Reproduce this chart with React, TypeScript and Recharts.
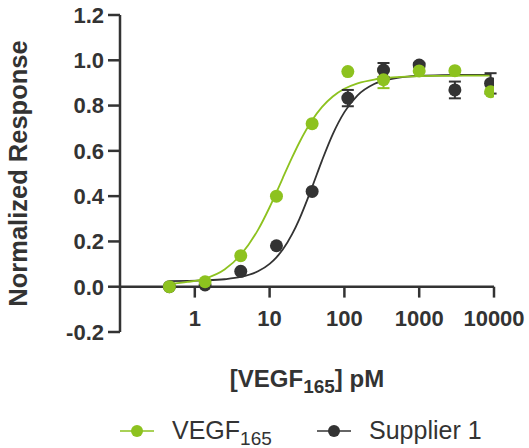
import React from 'react';
import {
  ComposedChart,
  Line,
  Scatter,
  ErrorBar,
  XAxis,
  YAxis,
  ReferenceLine,
} from 'recharts';

// Colours
const GREEN = '#8dc21f';
const DARK = '#333333';
const FONT = '"Liberation Sans", Arial, sans-serif';

// Concentrations (pM), 3-fold dilution series
const concentrations = [0.457, 1.372, 4.115, 12.35, 37.04, 111.1, 333.3, 1000, 3000, 9000];

// Measured points
const vegfValues = [0.0, 0.022, 0.137, 0.4, 0.72, 0.95, 0.914, 0.953, 0.954, 0.861];
const vegfErrors = [0, 0, 0, 0, 0, 0, 0.037, 0, 0, 0];
const supplierValues = [0.0, 0.008, 0.068, 0.181, 0.421, 0.833, 0.957, 0.979, 0.869, 0.898];
const supplierErrors = [0, 0, 0, 0, 0, 0.036, 0.031, 0.01, 0.037, 0.045];

// Fitted curves
const curveX = [0.457, 0.8, 1.37, 2.5, 4.12, 7, 10, 12.35, 15, 20, 25, 37, 50, 70, 100, 150, 250, 400, 700, 1000, 2000, 4000, 9000];
const vegfCurve = [0.012, 0.021, 0.036, 0.076, 0.141, 0.251, 0.351, 0.417, 0.48, 0.571, 0.637, 0.735, 0.793, 0.84, 0.874, 0.898, 0.915, 0.923, 0.928, 0.93, 0.931, 0.932, 0.932];
const supplierCurve = [0.025, 0.026, 0.028, 0.033, 0.043, 0.068, 0.101, 0.13, 0.164, 0.232, 0.299, 0.44, 0.556, 0.674, 0.771, 0.845, 0.895, 0.916, 0.928, 0.931, 0.934, 0.935, 0.935];

// Axis ticks
const xTicks = [1, 10, 100, 1000, 10000];
const yTicks = [-0.2, 0, 0.2, 0.4, 0.6, 0.8, 1.0, 1.2];

const vegfPoints = concentrations.map((x, i) => ({ x, y: vegfValues[i], err: vegfErrors[i] }));
const supplierPoints = concentrations.map((x, i) => ({ x, y: supplierValues[i], err: supplierErrors[i] }));
const vegfLine = curveX.map((x, i) => ({ x, y: vegfCurve[i] }));
const supplierLine = curveX.map((x, i) => ({ x, y: supplierCurve[i] }));

const dot = (color: string) => (p: any) => <circle cx={p.cx} cy={p.cy} r={6.5} fill={color} />;

function XTick({ x, y, payload }: any) {
  return (
    <text x={x} y={y - 6} textAnchor="middle" fill={DARK} fontFamily={FONT} fontWeight="bold" fontSize={22}>
      {payload.value}
    </text>
  );
}

function XTitle({ viewBox }: any) {
  const cx = viewBox.x + viewBox.width / 2;
  const y = viewBox.y + viewBox.height + 25;
  return (
    <text x={cx} y={y} textAnchor="middle" fill={DARK} fontFamily={FONT} fontWeight="bold" fontSize={24}>
      [VEGF
      <tspan fontSize={19} dy={6}>165</tspan>
      <tspan dy={-6}>] pM</tspan>
    </text>
  );
}

function YTitle({ viewBox }: any) {
  const cy = viewBox.y + viewBox.height / 2;
  const x = 27;
  return (
    <text
      x={x}
      y={cy}
      transform={`rotate(-90, ${x}, ${cy})`}
      textAnchor="middle"
      fill={DARK}
      fontFamily={FONT}
      fontWeight="bold"
      fontSize={25.5}
    >
      Normalized Response
    </text>
  );
}

function LegendMarker({ color }: { color: string }) {
  return (
    <svg width={34} height={14} style={{ display: 'block' }}>
      <line x1={0} y1={7} x2={34} y2={7} stroke={color} strokeWidth={1.5} />
      <circle cx={17} cy={7} r={6} fill={color} />
    </svg>
  );
}

function ChartLegend() {
  const item: React.CSSProperties = { display: 'flex', alignItems: 'center', position: 'absolute', top: 0 };
  const label: React.CSSProperties = { fontFamily: FONT, fontSize: 25, color: DARK, whiteSpace: 'nowrap' };
  return (
    <div style={{ position: 'absolute', left: 0, top: 416, width: 529, height: 30 }}>
      <div style={{ ...item, left: 120 }}>
        <LegendMarker color={GREEN} />
        <span style={{ ...label, marginLeft: 18 }}>
          VEGF<sub style={{ fontSize: 19, verticalAlign: 'baseline', position: 'relative', top: 6 }}>165</sub>
        </span>
      </div>
      <div style={{ ...item, left: 317 }}>
        <LegendMarker color={DARK} />
        <span style={{ ...label, marginLeft: 18 }}>Supplier 1</span>
      </div>
    </div>
  );
}

export default function App() {
  return (
    <div style={{ position: 'absolute', left: 0, top: 0, width: 529, height: 448, background: '#fff' }}>
      <ComposedChart width={529} height={448} margin={{ top: 15, right: 35, bottom: 86, left: 0 }}>
        <XAxis
          type="number"
          dataKey="x"
          scale="log"
          domain={[0.1, 10000]}
          ticks={xTicks}
          allowDataOverflow
          axisLine={false}
          tickLine={false}
          tickSize={0}
          tickMargin={0}
          height={30}
          tick={<XTick />}
          label={<XTitle />}
        />
        <YAxis
          type="number"
          domain={[-0.2, 1.2]}
          ticks={yTicks}
          width={120}
          tickFormatter={(v: number) => v.toFixed(1)}
          axisLine={{ stroke: DARK, strokeWidth: 2.5 }}
          tickLine={{ stroke: DARK, strokeWidth: 2.5 }}
          tickSize={12}
          tickMargin={4}
          tick={{ fill: DARK, fontFamily: FONT, fontWeight: 'bold', fontSize: 22 }}
          label={<YTitle />}
        />

        {/* x axis drawn at y = 0 */}
        <ReferenceLine y={0} stroke={DARK} strokeWidth={2.5} />
        {xTicks.map((t) => (
          <ReferenceLine
            key={t}
            segment={[{ x: t, y: 0 }, { x: t, y: -0.048 }]}
            stroke={DARK}
            strokeWidth={2.5}
          />
        ))}

        <Line
          data={supplierLine}
          dataKey="y"
          type="monotone"
          stroke={DARK}
          strokeWidth={1.8}
          dot={false}
          activeDot={false}
          isAnimationActive={false}
        />
        <Line
          data={vegfLine}
          dataKey="y"
          type="monotone"
          stroke={GREEN}
          strokeWidth={1.8}
          dot={false}
          activeDot={false}
          isAnimationActive={false}
        />
        <Scatter data={supplierPoints} dataKey="y" shape={dot(DARK)} isAnimationActive={false}>
          <ErrorBar dataKey="err" direction="y" width={6} stroke={DARK} strokeWidth={2} />
        </Scatter>
        <Scatter data={vegfPoints} dataKey="y" shape={dot(GREEN)} isAnimationActive={false}>
          <ErrorBar dataKey="err" direction="y" width={6} stroke={GREEN} strokeWidth={2} />
        </Scatter>
      </ComposedChart>
      <ChartLegend />
    </div>
  );
}
